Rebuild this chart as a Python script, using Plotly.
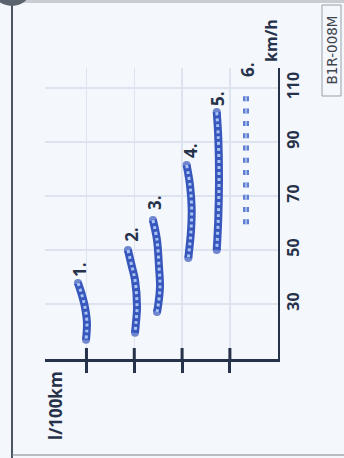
import plotly.graph_objects as go

# ---- data (speed in km/h, consumption in l/100km) ----
gear_names = ["1.", "2.", "3.", "4.", "5.", "6."]

speed_g1 = [37.8, 33.3, 28.9, 23.0, 16.7]
cons_g1 = [16.71, 16.38, 16.13, 15.96, 16.04]

speed_g2 = [50.0, 43.7, 38.9, 28.9, 23.0, 19.3]
cons_g2 = [12.53, 12.19, 11.94, 11.77, 11.86, 11.94]

speed_g3 = [61.1, 53.7, 43.7, 36.3, 28.9, 27.0]
cons_g3 = [10.44, 10.10, 9.93, 9.85, 10.02, 10.10]

speed_g4 = [81.5, 74.1, 65.6, 56.7, 47.0]
cons_g4 = [7.62, 7.34, 7.20, 7.26, 7.48]

speed_g5 = [101.1, 91.5, 76.7, 61.9, 50.0]
cons_g5 = [5.10, 4.97, 4.91, 4.97, 5.10]

speed_g6 = [59.5, 109.5]
cons_g6 = [2.65, 2.65]

label_speed = [42.6, 55.6, 67.8, 87.0, 106.3, 117.0]
label_cons = [16.54, 12.19, 10.27, 7.34, 5.0, 2.57]

speed_ticks = [30, 50, 70, 90, 110]
cons_ticks = [4, 8, 12, 16]

W, H = 344, 458
def px(x):
    return x / W
def py(y):
    return 1 - y / H

DARK = "#26314a"
BLUE = "#3757bd"
LIGHT = "#a9c3f3"
GRID = "#dde4f0"
FONT = "Open Sans"

fig = go.Figure()

curves = [(speed_g1, cons_g1), (speed_g2, cons_g2), (speed_g3, cons_g3),
          (speed_g4, cons_g4), (speed_g5, cons_g5)]
for s, c in curves:
    sizes = [8] + [0] * (len(s) - 2) + [8]
    fig.add_trace(go.Scatter(x=c, y=s, mode="lines+markers",
                             line=dict(color=BLUE, width=8, shape="spline"),
                             marker=dict(size=sizes, color=BLUE, line=dict(width=0)),
                             hoverinfo="skip", showlegend=False))
    fig.add_trace(go.Scatter(x=c, y=s, mode="lines",
                             line=dict(color=LIGHT, width=3, shape="spline", dash="dot"),
                             hoverinfo="skip", showlegend=False))

fig.add_trace(go.Scatter(x=cons_g6, y=speed_g6, mode="lines",
                         line=dict(color="#5f7fd4", width=6, dash="5px,7.3px"),
                         hoverinfo="skip", showlegend=False))
fig.add_trace(go.Scatter(x=cons_g6, y=speed_g6, mode="lines",
                         line=dict(color="#b9cbf0", width=1.5, dash="5px,7.3px"),
                         hoverinfo="skip", showlegend=False))

annotations = []
for name, s, c in zip(gear_names, label_speed, label_cons):
    annotations.append(dict(x=c, y=s, xref="x", yref="y", text=name, showarrow=False,
                            textangle=-90, xanchor="center", yanchor="middle",
                            font=dict(family=FONT, size=17, color=DARK, weight="bold")))

annotations.append(dict(x=px(271), y=py(41), xref="paper", yref="paper", text="km/h",
                        showarrow=False, textangle=-90, xanchor="center", yanchor="middle",
                        font=dict(family=FONT, size=16, color=DARK, weight="bold")))
annotations.append(dict(x=px(55), y=py(406), xref="paper", yref="paper", text="l/100km",
                        showarrow=False, textangle=-90, xanchor="center", yanchor="middle",
                        font=dict(family=FONT, size=17, color=DARK, weight="bold")))
annotations.append(dict(x=px(331.5), y=py(50), xref="paper", yref="paper", text="B1R-008M",
                        showarrow=False, textangle=-90, xanchor="center", yanchor="middle",
                        font=dict(family="DejaVu Sans", size=13.5, color="#3f444d")))

shapes = []
# crossing part of ticks (upper half)
for c in cons_ticks:
    shapes.append(dict(type="line", xref="x", yref="paper", x0=c, x1=c,
                       y0=py(359.3), y1=py(348), line=dict(color=DARK, width=3)))
# page frame
shapes.append(dict(type="line", xref="paper", yref="paper", x0=px(12), x1=px(12),
                   y0=py(4), y1=py(458), line=dict(color="#4d5563", width=2)))
shapes.append(dict(type="line", xref="paper", yref="paper", x0=px(12), x1=px(344),
                   y0=py(455), y1=py(455), line=dict(color="#7c828c", width=1)))
shapes.append(dict(type="rect", xref="paper", yref="paper", x0=px(0), x1=px(344),
                   y0=py(3), y1=py(0), line=dict(width=0), fillcolor="#c9cdd3"))
shapes.append(dict(type="circle", xref="paper", yref="paper", x0=px(-6), x1=px(30),
                   y0=py(6), y1=py(-24), line=dict(width=0), fillcolor="#5b636e"))
shapes.append(dict(type="rect", xref="paper", yref="paper", x0=px(322), x1=px(341),
                   y0=py(96), y1=py(5), line=dict(color="#9aa0a8", width=1),
                   fillcolor="rgba(0,0,0,0)"))

fig.update_layout(
    width=W, height=H,
    margin=dict(l=0, r=0, t=0, b=0),
    paper_bgcolor="#f4f7fc", plot_bgcolor="#f4f7fc",
    showlegend=False,
    xaxis=dict(domain=[px(45), px(277.7)], range=[19.47, 0],
               tickvals=cons_ticks, showticklabels=False,
               ticks="outside", ticklen=11, tickwidth=3, tickcolor=DARK,
               showgrid=True, gridcolor=GRID, gridwidth=1.5,
               showline=True, linecolor=DARK, linewidth=2.5,
               zeroline=False, fixedrange=True),
    yaxis=dict(domain=[py(359.3), py(67.75)], range=[9.5, 117.5],
               side="right", anchor="x",
               tickvals=speed_ticks, ticktext=[str(v) for v in speed_ticks],
               tickangle=-90, ticks="", ticklabelstandoff=0,
               tickfont=dict(family=FONT, size=16, color=DARK, weight="bold"),
               showgrid=True, gridcolor=GRID, gridwidth=1.5,
               showline=True, linecolor=DARK, linewidth=2.5,
               zeroline=False, fixedrange=True),
    annotations=annotations,
    shapes=shapes,
)

fig.write_html("out.html",
               config={"displayModeBar": False, "staticPlot": True},
               post_script="document.body.style.margin='0';document.body.style.overflow='hidden';")
